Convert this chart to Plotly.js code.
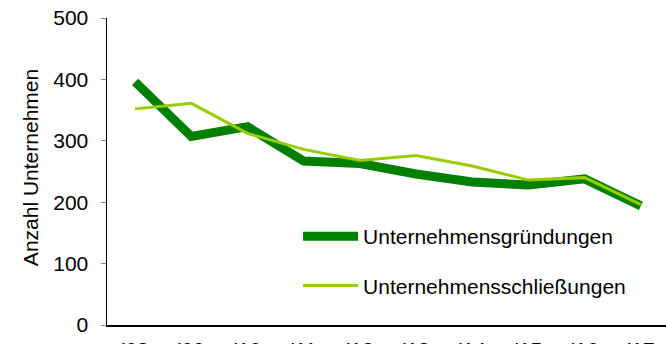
<!DOCTYPE html>
<html>
<head>
<meta charset="utf-8">
<script src="https://cdn.plot.ly/plotly-3.0.1.min.js"></script>
<style>
html,body{margin:0;padding:0;overflow:hidden;background:#fff;}
#chart{width:680px;height:370px;}
</style>
</head>
<body>
<div id="chart"></div>
<script>
const years = ["'08","'09","'10","'11","'12","'13","'14","'15","'16","'17"];
const gruendungen = [396, 307, 323, 267, 263, 246, 233, 228, 238, 194];
const schliessungen = [352, 361, 312, 286, 268, 276, 259, 236, 240, 196];
const yTicks = [0, 100, 200, 300, 400, 500];

const font = "Liberation Sans, Arial, sans-serif";

const traces = [
  {x: years, y: gruendungen, type: 'scatter', mode: 'lines', name: 'Unternehmensgründungen',
   line: {color: '#008000', width: 9}, legendgroup: 'a'},
  {x: years, y: schliessungen, type: 'scatter', mode: 'lines', name: 'Unternehmensschließungen',
   line: {color: '#99CC00', width: 3}, legendgroup: 'b'}
];

const layout = {
  width: 680, height: 370,
  margin: {l: 107, r: 11, t: 18, b: 45},
  paper_bgcolor: '#fff', plot_bgcolor: '#fff',
  font: {family: font, size: 21, color: '#000'},
  showlegend: true,
  legend: {x: 0.34, y: 0.208, xanchor: 'left', yanchor: 'middle', bgcolor: 'rgba(0,0,0,0)',
           font: {family: font, size: 21}, tracegroupgap: 19, itemwidth: 55, traceorder: 'grouped'},
  xaxis: {type: 'category', range: [-0.5, 9.5], showline: true, linecolor: '#000', linewidth: 1.5,
          ticks: '', showgrid: false, zeroline: false, tickfont: {family: font, size: 21},
          ticklabelstandoff: 5},
  yaxis: {range: [0, 500], tickvals: yTicks, showline: true, linecolor: '#000', linewidth: 1.5,
          ticks: 'outside', ticklen: 5, tickcolor: '#888', showgrid: false, zeroline: false,
          tickfont: {family: font, size: 21}, ticklabelstandoff: 8},
  annotations: [{text: 'Anzahl Unternehmen', xref: 'paper', yref: 'paper', x: -0.137, y: 0.511,
                 textangle: -90, showarrow: false, font: {family: font, size: 21}, xanchor: 'center', yanchor: 'middle'}]
};

Plotly.newPlot('chart', traces, layout, {displayModeBar: false, staticPlot: true});
</script>
</body>
</html>
